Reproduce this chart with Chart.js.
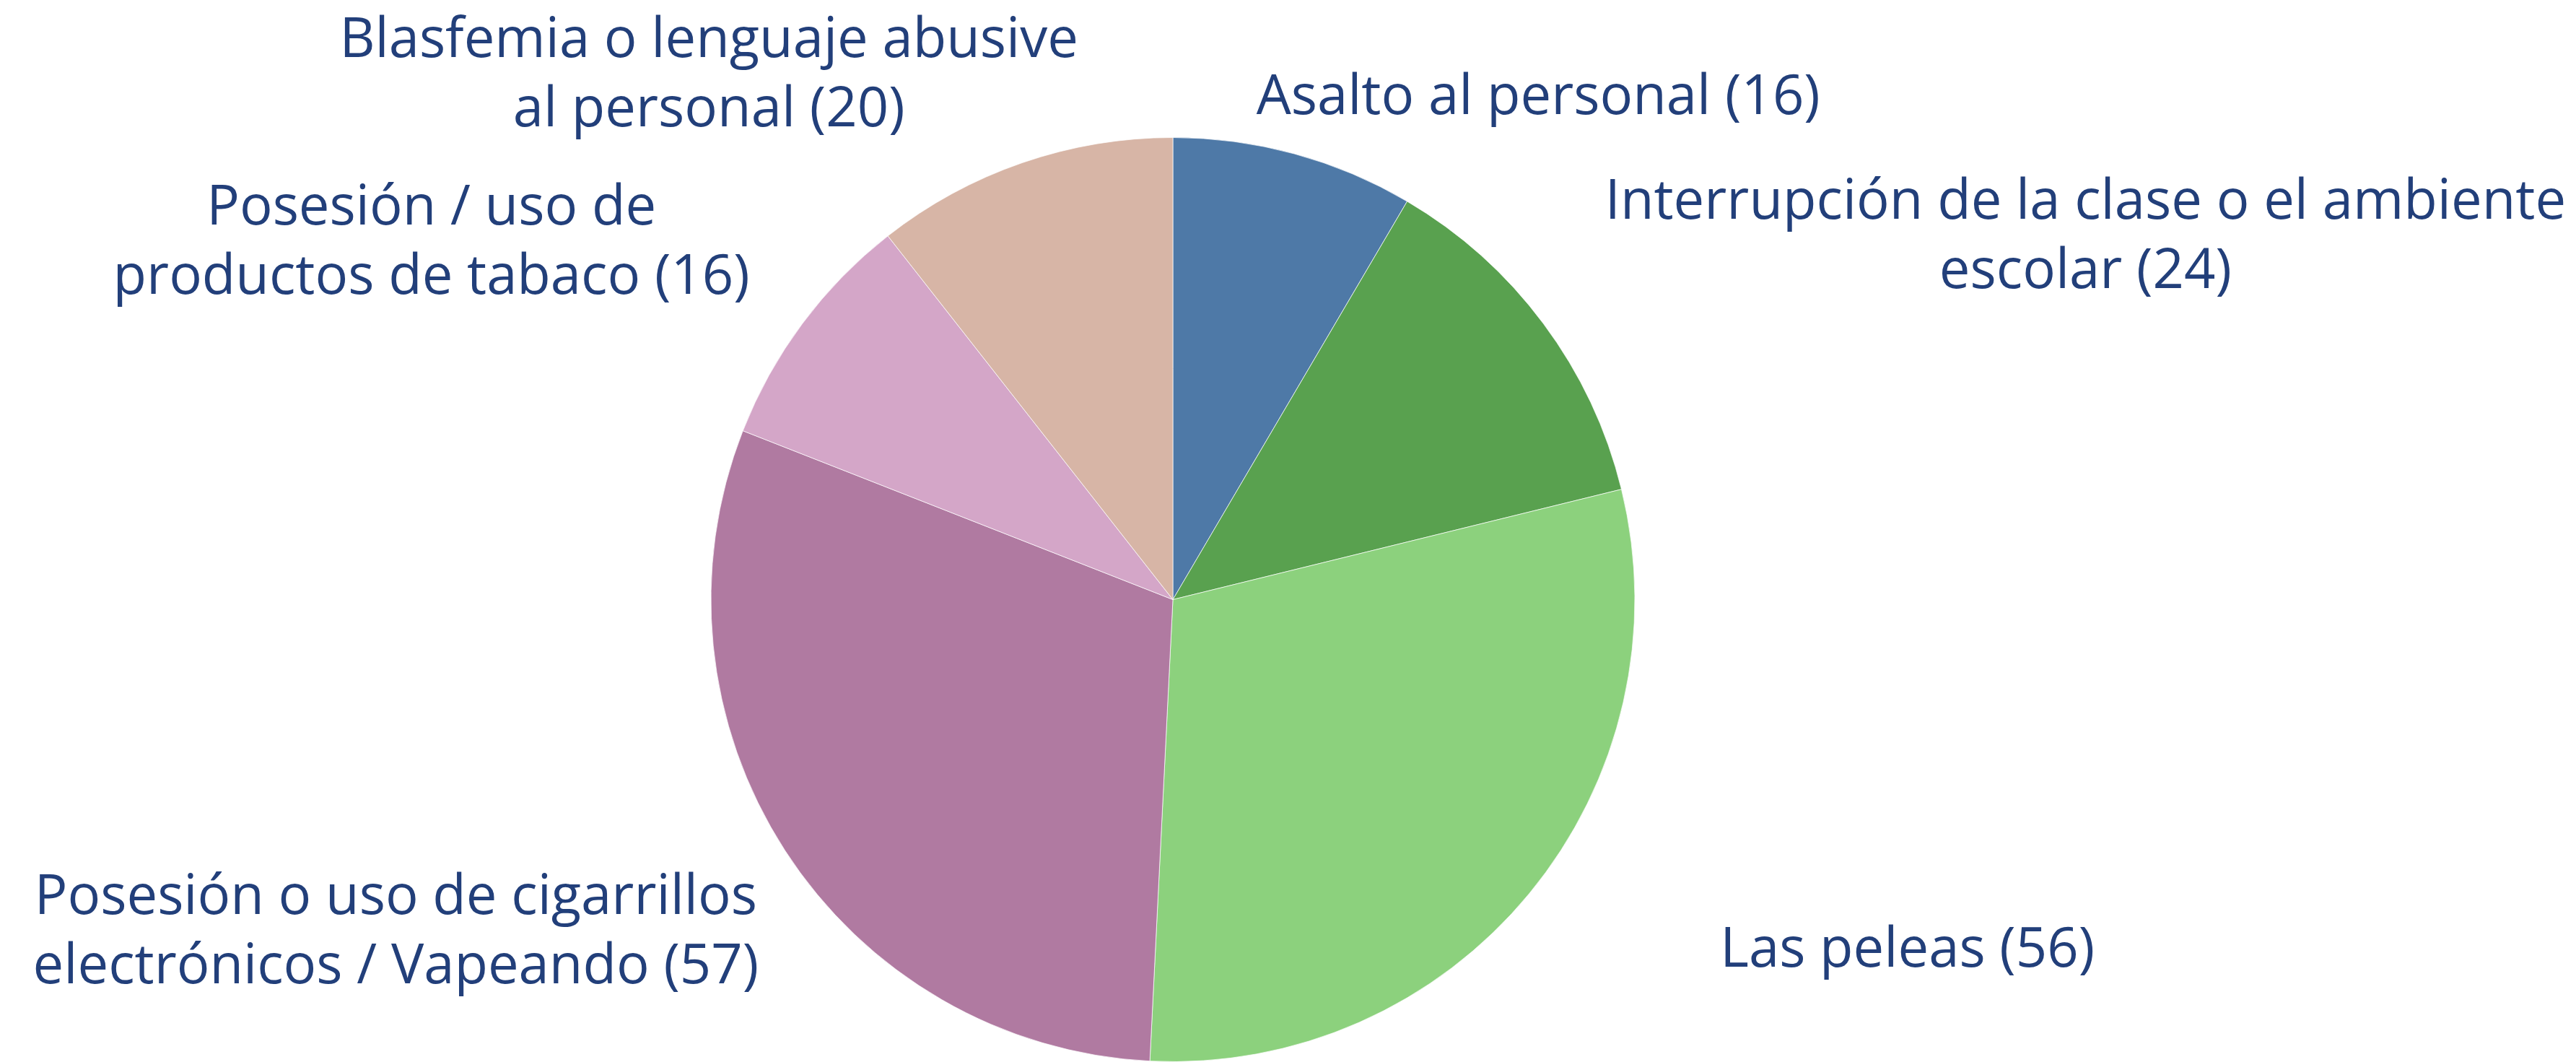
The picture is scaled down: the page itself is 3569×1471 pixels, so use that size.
<!DOCTYPE html>
<html>
<head>
<meta charset="utf-8">
<script src="https://cdn.jsdelivr.net/npm/chart.js@4/dist/chart.umd.min.js"></script>
<style>
  html, body { margin: 0; padding: 0; background: #ffffff; }
  #wrap { width: 3569px; height: 1471px; }
</style>
</head>
<body>
<div id="wrap"><canvas id="pie" width="3569" height="1471"></canvas></div>
<script>
// categories (label lines), values and slice colours
const categories = [
    ['Asalto al personal'],
    ['Interrupción de la clase o el ambiente', 'escolar'],
    ['Las peleas'],
    ['Posesión o uso de cigarrillos', 'electrónicos / Vapeando'],
    ['Posesión / uso de', 'productos de tabaco'],
    ['Blasfemia o lenguaje abusive', 'al personal']
];
const counts = [16, 24, 56, 57, 16, 20];
const sliceColors = ['#4E79A7', '#59A14F', '#8CD17D', '#B07AA1', '#D4A6C8', '#D7B5A6'];

// where each label sits relative to the outer edge of its slice (px)
const labelOffsets = [[338, -55], [751, -145], [524, 101], [-539, 88], [-514, -137], [-434, -147]];

const TEXT_COLOR = '#223F7A';
const FONT = '76px "Open Sans", "Noto Sans", sans-serif';
const LINE_HEIGHT = 96;

const outsideLabels = {
    id: 'outsideLabels',
    afterDraw(chart) {
        const ctx = chart.ctx;
        const meta = chart.getDatasetMeta(0);
        ctx.save();
        ctx.font = FONT;
        ctx.fillStyle = TEXT_COLOR;
        ctx.textAlign = 'center';
        ctx.textBaseline = 'alphabetic';
        meta.data.forEach((arc, i) => {
            const p = arc.getProps(['x', 'y', 'startAngle', 'endAngle', 'outerRadius'], true);
            const mid = (p.startAngle + p.endAngle) / 2;
            const ax = p.x + Math.cos(mid) * p.outerRadius + labelOffsets[i][0];
            const ay = p.y + Math.sin(mid) * p.outerRadius + labelOffsets[i][1];
            const lines = categories[i].slice();
            lines[lines.length - 1] += ' (' + counts[i] + ')';
            lines.forEach((line, j) => ctx.fillText(line, ax, ay + j * LINE_HEIGHT));
        });
        ctx.restore();
    }
};

new Chart(document.getElementById('pie'), {
    type: 'pie',
    data: {
        labels: categories.map(c => c.join(' ')),
        datasets: [{
            data: counts,
            backgroundColor: sliceColors,
            borderColor: 'rgba(255, 255, 255, 0.7)',
            borderWidth: 1,
            hoverOffset: 0
        }]
    },
    options: {
        responsive: false,
        animation: false,
        devicePixelRatio: 1,
        layout: { padding: { top: 190, bottom: -3, left: 983, right: 1302 } },
        plugins: {
            legend: { display: false },
            tooltip: { enabled: false }
        }
    },
    plugins: [outsideLabels]
});
</script>
</body>
</html>
